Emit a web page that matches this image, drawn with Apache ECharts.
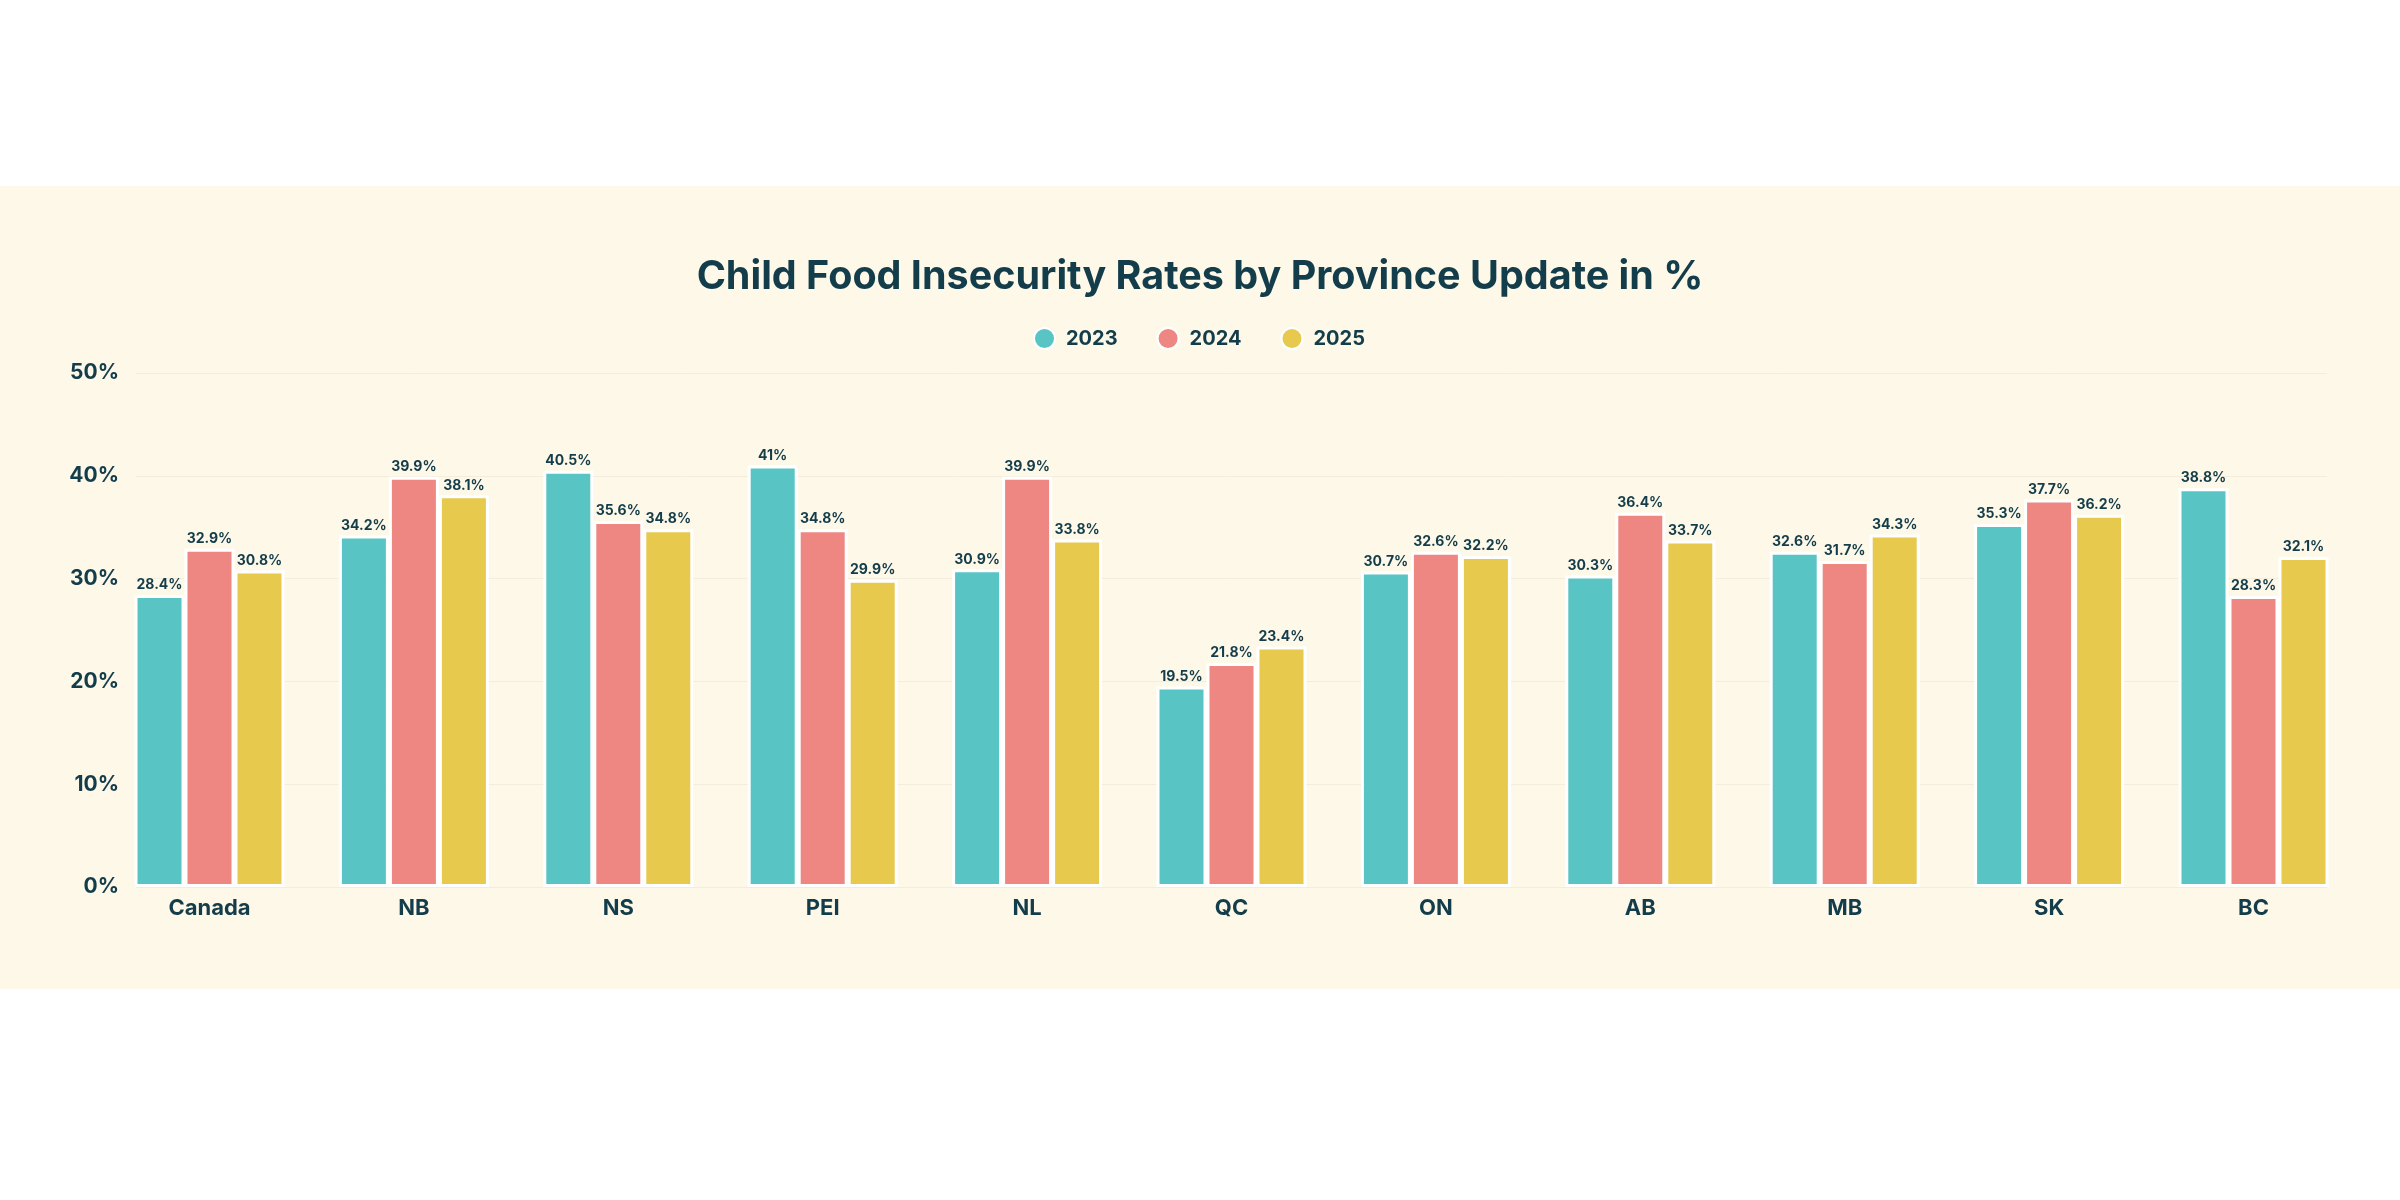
<!DOCTYPE html>
<html>
<head>
<meta charset="utf-8">
<script src="https://cdn.jsdelivr.net/npm/echarts@6/dist/echarts.min.js"></script>
<style>
  html, body { margin: 0; padding: 0; background: #ffffff; }
  #band { position: absolute; left: 0; top: 186px; width: 2400px; height: 803px; background: #FEF8E9; }
  #chart { width: 2400px; height: 803px; }
</style>
</head>
<body>
<div id="band"><div id="chart"></div></div>
<script>
// provinces and yearly rates (%)
var categories = ['Canada', 'NB', 'NS', 'PEI', 'NL', 'QC', 'ON', 'AB', 'MB', 'SK', 'BC'];
var years = ['2023', '2024', '2025'];
var rates2023 = [28.4, 34.2, 40.5, 41, 30.9, 19.5, 30.7, 30.3, 32.6, 35.3, 38.8];
var rates2024 = [32.9, 39.9, 35.6, 34.8, 39.9, 21.8, 32.6, 36.4, 31.7, 37.7, 28.3];
var rates2025 = [30.8, 38.1, 34.8, 29.9, 33.8, 23.4, 32.2, 33.7, 34.3, 36.2, 32.1];

var colors = ['#58C4C4', '#EE8782', '#E7C94D'];
var dark = '#133D4A';
var font = 'Inter';

var myChart = echarts.init(document.getElementById('chart'));

function barSeries(name, data, idx) {
    return {
        name: name,
        type: 'bar',
        xAxisIndex: 1,
        yAxisIndex: 1,
        data: data,
        barWidth: 50,
        barGap: '0%',
        itemStyle: {
            color: colors[idx],
            borderColor: '#ffffff',
            borderWidth: 3
        },
        label: {
            show: true,
            position: 'top',
            distance: 3,
            formatter: '{c}%',
            color: dark,
            fontFamily: font,
            fontWeight: 700,
            fontSize: 14
        }
    };
}

var option = {
    backgroundColor: 'transparent',
    animation: false,
    color: colors,
    title: {
        text: 'Child Food Insecurity Rates by Province Update in %',
        left: 'center',
        top: 62,
        textStyle: {
            color: dark,
            fontFamily: font,
            fontWeight: 700,
            fontSize: 39.5,
            lineHeight: 48
        }
    },
    legend: {
        data: years,
        top: 136,
        left: 1028,
        icon: 'circle',
        itemWidth: 21,
        itemHeight: 21,
        itemGap: 39,
        textStyle: {
            color: dark,
            fontFamily: font,
            fontWeight: 700,
            fontSize: 20,
            padding: [0, 0, 0, 6]
        }
    },
    grid: [
        {left: 136, right: 73, top: 187, bottom: 102},
        {left: 107.3, right: 44.3, top: 187, bottom: 102}
    ],
    xAxis: [
        {gridIndex: 0, type: 'category', data: categories, show: false},
        {
            gridIndex: 1,
            type: 'category',
            data: categories,
            axisLine: {show: false},
            axisTick: {show: false},
            axisLabel: {
                color: dark,
                fontFamily: font,
                fontWeight: 700,
                fontSize: 22,
                margin: 10
            }
        }
    ],
    yAxis: [
        {
            gridIndex: 0,
            type: 'value',
            min: 0,
            max: 50,
            interval: 10,
            axisLine: {show: false},
            axisTick: {show: false},
            splitLine: {lineStyle: {color: '#F3EDDD', width: 1}},
            axisLabel: {
                formatter: '{value}%',
                color: dark,
                fontFamily: font,
                fontWeight: 700,
                fontSize: 21,
                margin: 17
            }
        },
        {gridIndex: 1, type: 'value', min: 0, max: 50, interval: 10, show: false, splitLine: {show: false}}
    ],
    series: [
        barSeries(years[0], rates2023, 0),
        barSeries(years[1], rates2024, 1),
        barSeries(years[2], rates2025, 2)
    ]
};

myChart.setOption(option);
</script>
</body>
</html>
